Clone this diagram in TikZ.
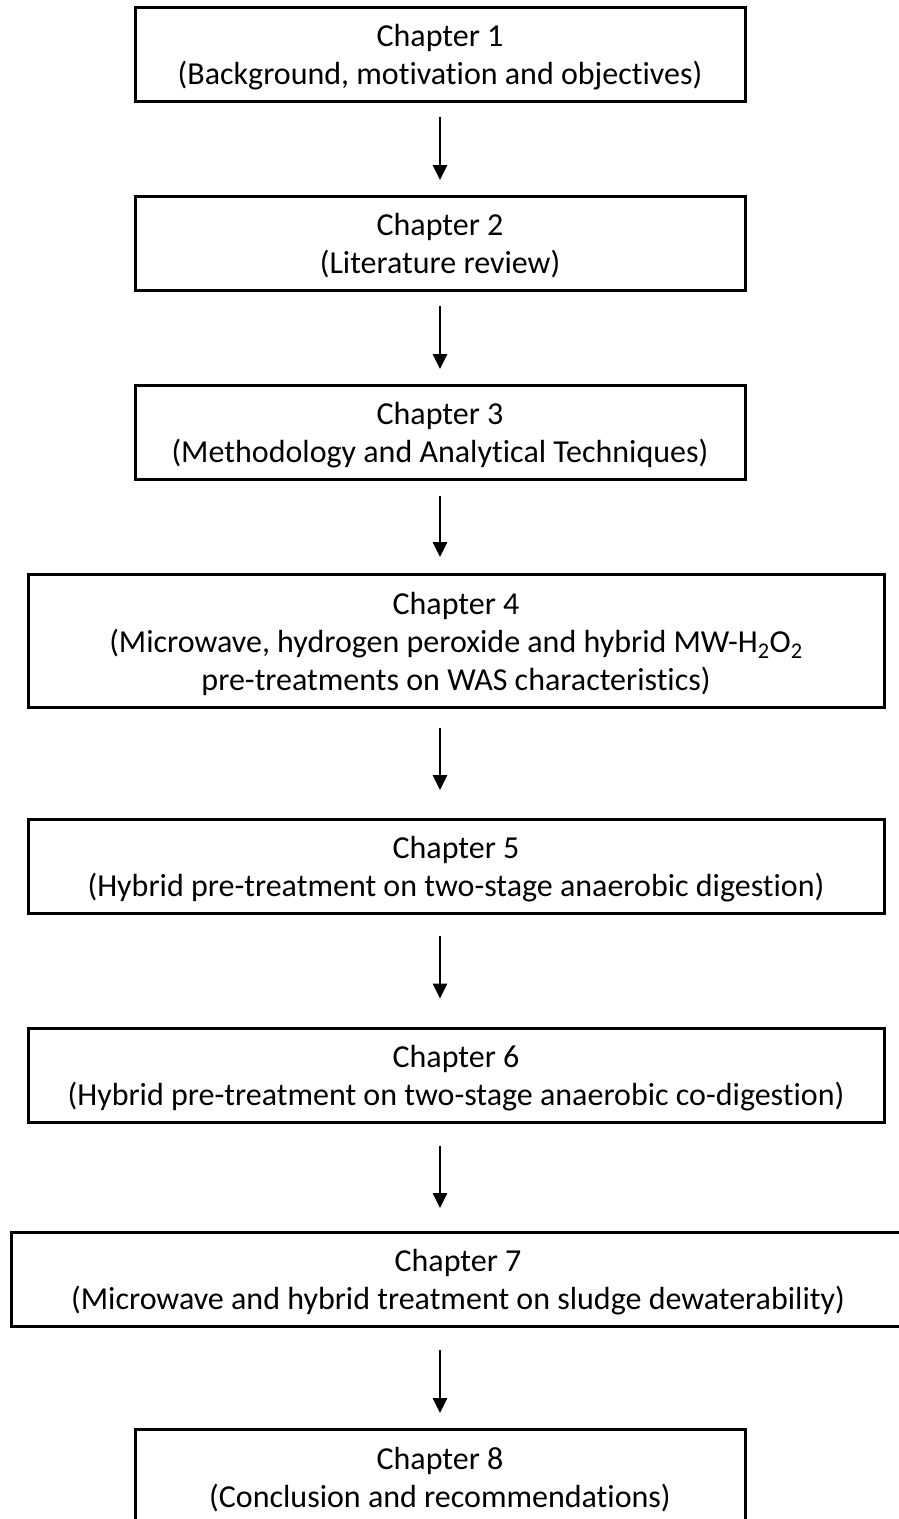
\documentclass[tikz,border=0pt]{standalone}
\usepackage{fontspec}
\setmainfont{Carlito}[RawFeature={-liga;-clig}]
\usetikzlibrary{arrows.meta}
\begin{document}
\begin{tikzpicture}[x=1pt,y=-1pt,
  chaptext/.style={align=center, text=black, inner sep=0pt, yshift=-3pt,
    font=\fontsize{32}{38}\selectfont},
  chapbox/.style={draw=black, line width=3pt, rectangle, inner sep=0pt, outer sep=0pt},
  narrowbox/.style={chapbox, minimum width=610pt, minimum height=94pt},
  widebox/.style={chapbox, minimum width=856pt, minimum height=94pt},
  flow/.style={draw=black, line width=2.6pt, -{Triangle[width=14pt,length=15pt]}}]
\useasboundingbox (0,0) rectangle (899,1519);
\clip (0,0) rectangle (899,1519);

% column of the arrows
\coordinate (ax) at (440,0);

% chapter boxes, each with its title set in the middle
\node[narrowbox, label={[chaptext]center:{Chapter 1\\(Background, motivation and objectives)}}]
  (c1) at (440,54) {};
\node[narrowbox, label={[chaptext]center:{Chapter 2\\(Literature review)}}]
  (c2) at (440,243) {};
\node[narrowbox, label={[chaptext]center:{Chapter 3\\(Methodology and Analytical Techniques)}}]
  (c3) at (440,432) {};
\node[widebox, minimum height=133pt,
  label={[chaptext]center:{Chapter 4\\(Microwave, hydrogen peroxide and hybrid MW-H\textsubscript{2}O\textsubscript{2}\\pre-treatments on WAS characteristics)}}]
  (c4) at (456,640.5) {};
\node[widebox, label={[chaptext]center:{Chapter 5\\(Hybrid pre-treatment on two-stage anaerobic digestion)}}]
  (c5) at (456,866) {};
\node[widebox, label={[chaptext]center:{Chapter 6\\(Hybrid pre-treatment on two-stage anaerobic co-digestion)}}]
  (c6) at (456,1075.5) {};
\node[chapbox, minimum width=894pt, minimum height=94pt,
  label={[chaptext]center:{Chapter 7\\(Microwave and hybrid treatment on sludge dewaterability)}}]
  (c7) at (458,1279) {};
\node[narrowbox, minimum height=96pt,
  label={[chaptext]center:{Chapter 8\\(Conclusion and recommendations)}}]
  (c8) at (440,1477) {};

% arrows between chapters
\draw[flow, shorten <=16pt, shorten >=16pt] (c1.south -| ax) -- (c2.north -| ax);
\draw[flow, shorten <=16pt, shorten >=16pt] (c2.south -| ax) -- (c3.north -| ax);
\draw[flow, shorten <=17pt, shorten >=17pt] (c3.south -| ax) -- (c4.north -| ax);
\draw[flow, shorten <=21pt, shorten >=29pt] (c4.south -| ax) -- (c5.north -| ax);
\draw[flow, shorten <=23pt, shorten >=30pt] (c5.south -| ax) -- (c6.north -| ax);
\draw[flow, shorten <=23pt, shorten >=24pt] (c6.south -| ax) -- (c7.north -| ax);
\draw[flow, shorten <=24pt, shorten >=16pt] (c7.south -| ax) -- (c8.north -| ax);
\end{tikzpicture}
\end{document}
